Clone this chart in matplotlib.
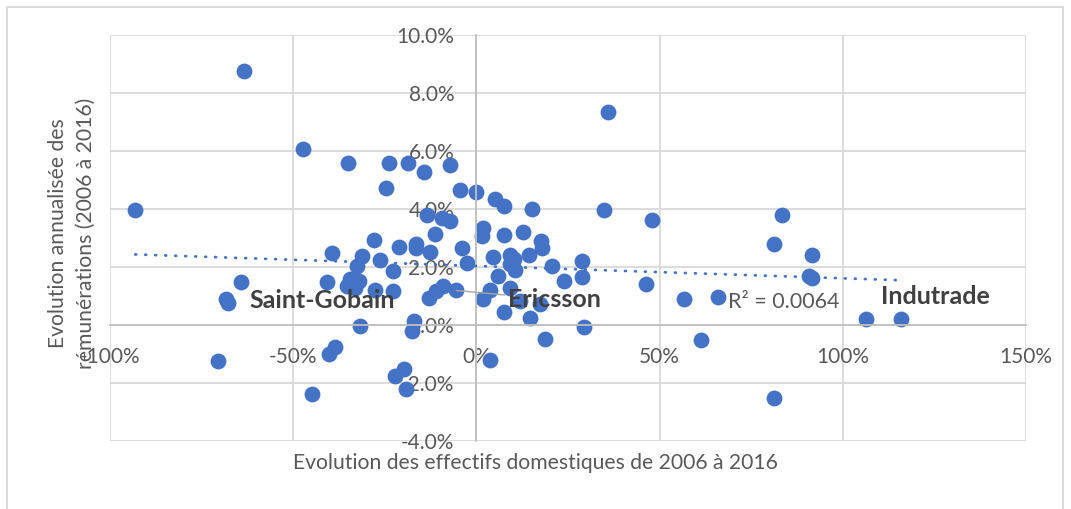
import matplotlib.pyplot as plt
from matplotlib.patches import Rectangle
import numpy as np

# evolution des effectifs domestiques (%) et des remunerations (%)
effectifs = [
    -93.1, -63.5, -47.3, -35.0, -23.9, -18.7, -14.4, -7.1, -24.8, -4.4,
    0.0, 5.2, 7.5, 15.3, 34.7, 47.8, 35.8, -13.5, -9.4, -7.3,
    -11.4, 1.9, 7.5, 12.6, 17.7, 17.9, 1.6, -28.0, -16.5, -16.4,
    -39.4, -31.2, -26.4, -21.2, -12.7, -3.9, -2.5, -22.7, -32.6, -40.8,
    -34.4, -32.1, -35.3, -33.0, -27.8, -22.7, -13.0, -11.0, -9.1, -5.5,
    1.8, 3.8, -31.9, -17.1, -17.5, -38.7, -40.3, -19.8, -22.3, -19.1,
    -44.8, 3.8, 4.5, 9.3, 10.2, 9.3, 10.6, 14.3, 20.7, 28.8,
    28.8, 23.8, 5.8, 9.3, 12.0, 17.3, 7.5, 14.7, 29.3, 18.6,
    46.3, 56.6, 65.9, 61.3, 81.1, 83.4, 81.3, 91.7, 90.7, 91.6,
    106.2, 115.8, -64.2, -68.3, -67.9, -70.6,
]
remunerations = [
    3.96, 8.75, 6.08, 5.57, 5.57, 5.57, 5.28, 5.52, 4.71, 4.65,
    4.59, 4.36, 4.12, 3.99, 3.98, 3.61, 7.36, 3.81, 3.70, 3.58,
    3.15, 3.33, 3.10, 3.21, 2.88, 2.66, 3.06, 2.92, 2.81, 2.66,
    2.47, 2.37, 2.24, 2.70, 2.51, 2.66, 2.14, 1.86, 2.03, 1.49,
    1.57, 1.51, 1.34, 1.28, 1.20, 1.17, 0.94, 1.17, 1.34, 1.19,
    0.88, 1.22, -0.04, 0.13, -0.21, -0.77, -0.99, -1.51, -1.77, -2.20,
    -2.37, -1.19, 2.35, 2.43, 2.26, 2.09, 1.91, 2.40, 2.03, 2.20,
    1.65, 1.51, 1.68, 1.28, 0.82, 0.74, 0.44, 0.25, -0.06, -0.47,
    1.43, 0.88, 0.97, -0.52, -2.51, 3.81, 2.81, 2.41, 1.68, 1.63,
    0.22, 0.22, 1.48, 0.90, 0.76, -1.25,
]

# entreprises nommees sur le graphique
etiquettes = {"Saint-Gobain": (-68.3, 0.90), "Ericsson": (-5.5, 1.19), "Indutrade": (115.8, 0.22)}
r2_texte = "R² = 0.0064"

x_ticks = [-100, -50, 0, 50, 100, 150]
y_ticks = [-4, -2, 0, 2, 4, 6, 8, 10]

bleu = "#4472C4"
gris_texte = "#595959"
gris_grille = "#d9d9d9"

plt.rcParams["font.family"] = ["Lato", "DejaVu Sans"]

fig = plt.figure(figsize=(10.71, 5.09), dpi=100)
ax = fig.add_axes([110 / 1071, 1 - 441 / 509, 916 / 1071, 406 / 509])

ax.scatter(effectifs, remunerations, s=130, color=bleu, linewidths=0, zorder=2)

# courbe de tendance lineaire
x = np.array(effectifs)
y = np.array(remunerations)
pente, origine = np.polyfit(x, y, 1)
xt = np.array([x.min(), x.max()])
ax.plot(xt, pente * xt + origine, color=bleu, linewidth=2, linestyle=(0, (0.3, 3.3)),
        dash_capstyle="round", zorder=3)

ax.set_xlim(-100, 150)
ax.set_ylim(-4, 10)
ax.set_xticks(x_ticks)
ax.set_xticklabels([f"{v}%" for v in x_ticks])
ax.set_yticks(y_ticks)
ax.set_yticklabels([f"{v:.1f}%" for v in y_ticks])
ax.tick_params(length=0, pad=16, labelsize=15, labelcolor=gris_texte)

ax.grid(True, color=gris_grille, linewidth=1.3, zorder=0)
for ligne in ax.get_xgridlines() + ax.get_ygridlines():
    ligne.set_clip_on(False)
ax.set_axisbelow(True)

for cote in ["top", "right"]:
    ax.spines[cote].set_visible(False)
for cote in ["left", "bottom"]:
    ax.spines[cote].set_position(("data", 0))
    ax.spines[cote].set_color("#bfbfbf")
    ax.spines[cote].set_linewidth(1.3)

# etiquettes des entreprises
ax.annotate("Saint-Gobain", etiquettes["Saint-Gobain"], xytext=(17, -1), textcoords="offset points",
            ha="left", va="center", fontsize=18, fontweight="bold", color="#404040")
ax.annotate("Ericsson", etiquettes["Ericsson"], xytext=(37, -6.5), textcoords="offset points",
            ha="left", va="center", fontsize=18, fontweight="bold", color="#404040",
            arrowprops=dict(arrowstyle="-", color="#a6a6a6", lw=1, shrinkA=0, shrinkB=0))
ax.annotate("Indutrade", etiquettes["Indutrade"], xytext=(25, 16), textcoords="offset points",
            ha="center", va="center", fontsize=18, fontweight="bold", color="#404040")
ax.text(68.8, 0.81, r2_texte, ha="left", va="center", fontsize=15.5, color=gris_texte)

fig.text(535 / 1071, 1 - 463 / 509, "Evolution des effectifs domestiques de 2006 à 2016",
         ha="center", va="center", fontsize=15.2, color=gris_texte)
fig.text(72 / 1071, 1 - 233 / 509, "Evolution annualisée des\nrémunérations (2006 à 2016)",
         ha="center", va="center", rotation=90, fontsize=15.2, color=gris_texte,
         multialignment="center", linespacing=1.5)

# bordure du graphique
fig.patches.append(Rectangle((7 / 1071, -0.1), 1056 / 1071, 1.1 - 7 / 509, transform=fig.transFigure,
                             fill=False, edgecolor=gris_grille, linewidth=1.3))

fig.savefig("out.png", dpi=100)
